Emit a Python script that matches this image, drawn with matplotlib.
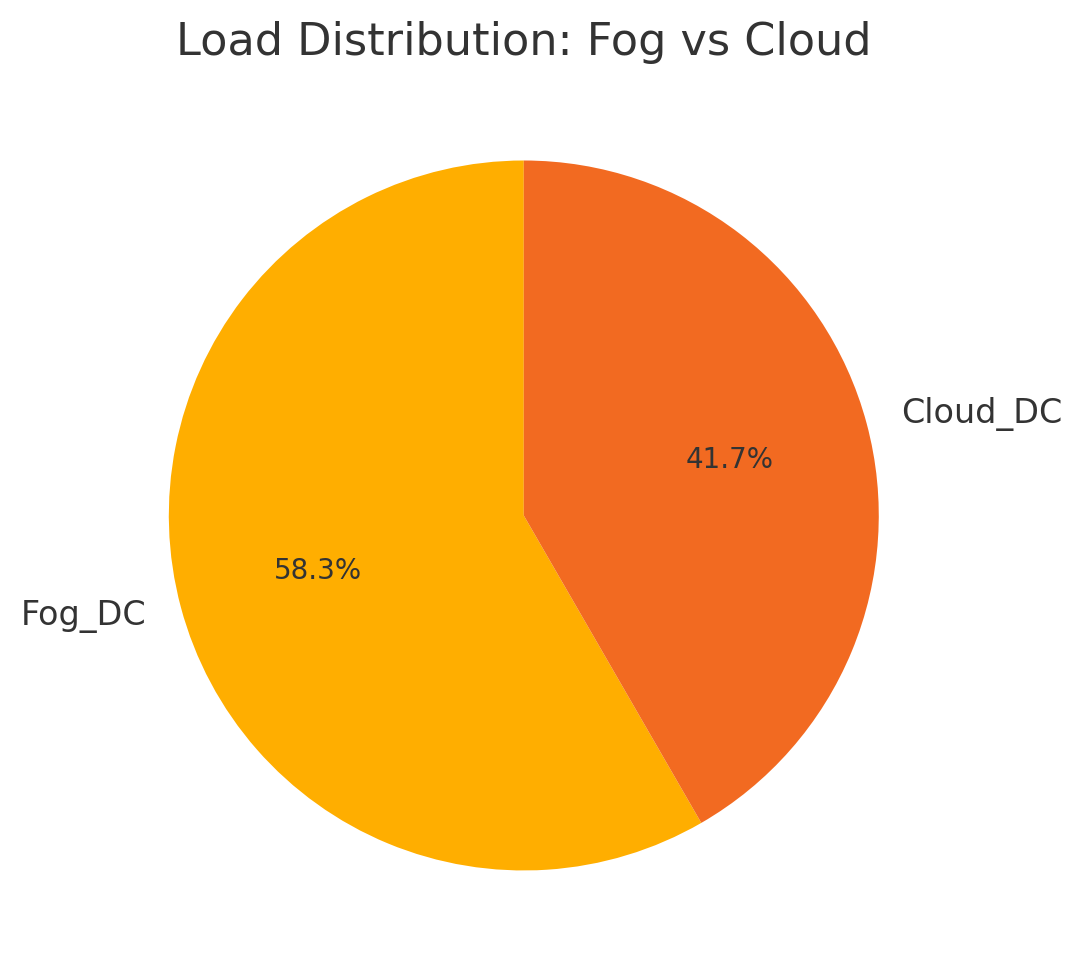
import matplotlib
matplotlib.use("Agg")
import matplotlib.pyplot as plt

labels = ["Fog_DC", "Cloud_DC"]
counts = [7, 5]
colors = ["#FFAE00", "#F26A21"]

W, H, DPI = 1082, 980, 150
fig = plt.figure(figsize=(W / DPI, H / DPI), dpi=DPI)
ax = fig.add_axes([0.0740, 0.0212, 0.8202, 0.9056])

wedges, texts, autotexts = ax.pie(
    counts, labels=labels, colors=colors, startangle=90,
    autopct="%1.1f%%", textprops={"color": "#333333", "fontsize": 16})
for t in autotexts:
    t.set_fontsize(13.3)
    t.set_color("#333333")
ax.set_aspect("equal")

fig.text(0.4838, 0.957, "Load Distribution: Fog vs Cloud", ha="center", va="center",
         fontsize=21.4, color="#333333")

fig.savefig("out.png", dpi=DPI)
